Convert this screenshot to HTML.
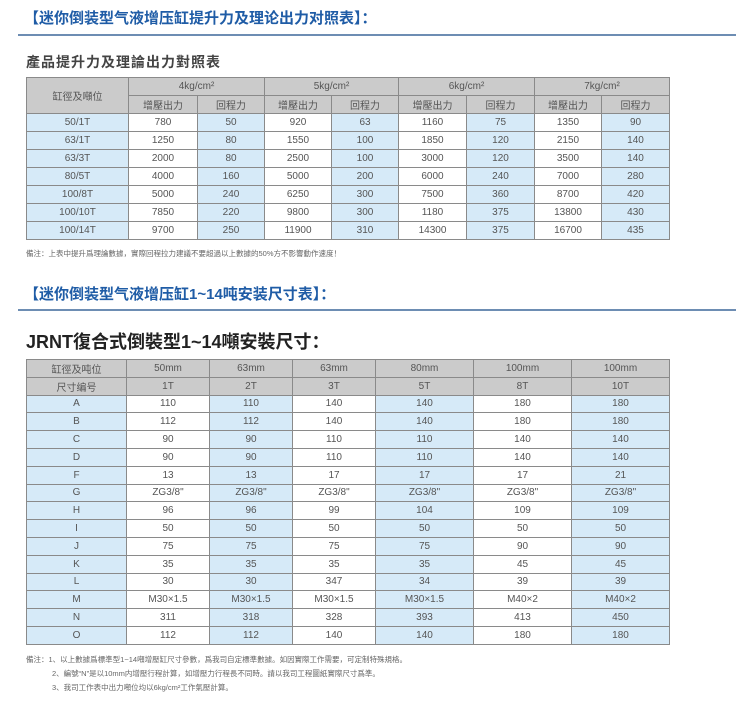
<!DOCTYPE html>
<html><head><meta charset="utf-8"><style>
body{margin:0;width:750px;height:703px;background:#fff;position:relative;overflow:hidden;font-family:"Liberation Sans","Noto Sans CJK SC",sans-serif}
.t{position:absolute;white-space:nowrap}
.h1{color:#1f5ca6;font-weight:bold;font-size:15px;left:24px}
.line{position:absolute;left:18px;width:718px;height:2px;background:#6d8db3}
table{position:absolute;border-collapse:collapse;table-layout:fixed;font-size:10px;color:#555}
td{border:1px solid #8a8a8a;text-align:center;padding:0;overflow:hidden;white-space:nowrap}
.g{background:#cbcbcb}
.b{background:#d6eaf8}
.w{background:#fff}
.note{font-size:7.5px;color:#666}
#t2 tr{height:17.8px}
</style></head><body>
<div class="t h1" style="top:7px">【迷你倒装型气液增压缸提升力及理论出力对照表】：</div>
<div class="line" style="top:34px"></div>
<div class="t" style="left:26px;top:52px;font-size:14px;font-weight:bold;color:#444;letter-spacing:1px">產品提升力及理論出力對照表</div>
<table style="left:26px;top:77px;width:643px">
<colgroup><col style="width:102px"><col style="width:69px"><col style="width:67px"><col style="width:67px"><col style="width:67px"><col style="width:68px"><col style="width:68px"><col style="width:67px"><col style="width:68px"></colgroup>
<tr style="height:18px"><td class="g" rowspan="2">缸徑及噸位</td><td class="g" colspan="2">4kg/cm²</td><td class="g" colspan="2">5kg/cm²</td><td class="g" colspan="2">6kg/cm²</td><td class="g" colspan="2">7kg/cm²</td></tr>
<tr style="height:18px"><td class="g">增壓出力</td><td class="g">回程力</td><td class="g">增壓出力</td><td class="g">回程力</td><td class="g">增壓出力</td><td class="g">回程力</td><td class="g">增壓出力</td><td class="g">回程力</td></tr>
<tr style="height:18px"><td class="b">50/1T</td><td class="w">780</td><td class="b">50</td><td class="w">920</td><td class="b">63</td><td class="w">1160</td><td class="b">75</td><td class="w">1350</td><td class="b">90</td></tr>
<tr style="height:18px"><td class="b">63/1T</td><td class="w">1250</td><td class="b">80</td><td class="w">1550</td><td class="b">100</td><td class="w">1850</td><td class="b">120</td><td class="w">2150</td><td class="b">140</td></tr>
<tr style="height:18px"><td class="b">63/3T</td><td class="w">2000</td><td class="b">80</td><td class="w">2500</td><td class="b">100</td><td class="w">3000</td><td class="b">120</td><td class="w">3500</td><td class="b">140</td></tr>
<tr style="height:18px"><td class="b">80/5T</td><td class="w">4000</td><td class="b">160</td><td class="w">5000</td><td class="b">200</td><td class="w">6000</td><td class="b">240</td><td class="w">7000</td><td class="b">280</td></tr>
<tr style="height:18px"><td class="b">100/8T</td><td class="w">5000</td><td class="b">240</td><td class="w">6250</td><td class="b">300</td><td class="w">7500</td><td class="b">360</td><td class="w">8700</td><td class="b">420</td></tr>
<tr style="height:18px"><td class="b">100/10T</td><td class="w">7850</td><td class="b">220</td><td class="w">9800</td><td class="b">300</td><td class="w">1180</td><td class="b">375</td><td class="w">13800</td><td class="b">430</td></tr>
<tr style="height:18px"><td class="b">100/14T</td><td class="w">9700</td><td class="b">250</td><td class="w">11900</td><td class="b">310</td><td class="w">14300</td><td class="b">375</td><td class="w">16700</td><td class="b">435</td></tr>
</table>
<div class="t note" style="left:26px;top:248px">備注：上表中提升爲理論數據，實際回程拉力建議不要超過以上數據的50%方不影響動作速度！</div>

<div class="t h1" style="top:283px">【迷你倒装型气液增压缸1~14吨安装尺寸表】：</div>
<div class="line" style="top:309px"></div>
<div class="t" style="left:26px;top:328px;font-size:18px;font-weight:bold;color:#222">JRNT復合式倒裝型1~14噸安裝尺寸：</div>
<table id="t2" style="left:26px;top:359px;width:643px">
<colgroup><col style="width:100px"><col style="width:83px"><col style="width:83px"><col style="width:83px"><col style="width:98px"><col style="width:98px"><col style="width:98px"></colgroup>
<tr><td class="g">缸徑及吨位</td><td class="g">50mm</td><td class="g">63mm</td><td class="g">63mm</td><td class="g">80mm</td><td class="g">100mm</td><td class="g">100mm</td></tr>
<tr><td class="g">尺寸编号</td><td class="g">1T</td><td class="g">2T</td><td class="g">3T</td><td class="g">5T</td><td class="g">8T</td><td class="g">10T</td></tr>
<tr><td class="b">A</td><td class="w">110</td><td class="b">110</td><td class="w">140</td><td class="b">140</td><td class="w">180</td><td class="b">180</td></tr>
<tr><td class="b">B</td><td class="w">112</td><td class="b">112</td><td class="w">140</td><td class="b">140</td><td class="w">180</td><td class="b">180</td></tr>
<tr><td class="b">C</td><td class="w">90</td><td class="b">90</td><td class="w">110</td><td class="b">110</td><td class="w">140</td><td class="b">140</td></tr>
<tr><td class="b">D</td><td class="w">90</td><td class="b">90</td><td class="w">110</td><td class="b">110</td><td class="w">140</td><td class="b">140</td></tr>
<tr><td class="b">F</td><td class="w">13</td><td class="b">13</td><td class="w">17</td><td class="b">17</td><td class="w">17</td><td class="b">21</td></tr>
<tr><td class="b">G</td><td class="w">ZG3/8"</td><td class="b">ZG3/8"</td><td class="w">ZG3/8"</td><td class="b">ZG3/8"</td><td class="w">ZG3/8"</td><td class="b">ZG3/8"</td></tr>
<tr><td class="b">H</td><td class="w">96</td><td class="b">96</td><td class="w">99</td><td class="b">104</td><td class="w">109</td><td class="b">109</td></tr>
<tr><td class="b">I</td><td class="w">50</td><td class="b">50</td><td class="w">50</td><td class="b">50</td><td class="w">50</td><td class="b">50</td></tr>
<tr><td class="b">J</td><td class="w">75</td><td class="b">75</td><td class="w">75</td><td class="b">75</td><td class="w">90</td><td class="b">90</td></tr>
<tr><td class="b">K</td><td class="w">35</td><td class="b">35</td><td class="w">35</td><td class="b">35</td><td class="w">45</td><td class="b">45</td></tr>
<tr><td class="b">L</td><td class="w">30</td><td class="b">30</td><td class="w">347</td><td class="b">34</td><td class="w">39</td><td class="b">39</td></tr>
<tr><td class="b">M</td><td class="w">M30×1.5</td><td class="b">M30×1.5</td><td class="w">M30×1.5</td><td class="b">M30×1.5</td><td class="w">M40×2</td><td class="b">M40×2</td></tr>
<tr><td class="b">N</td><td class="w">311</td><td class="b">318</td><td class="w">328</td><td class="b">393</td><td class="w">413</td><td class="b">450</td></tr>
<tr><td class="b">O</td><td class="w">112</td><td class="b">112</td><td class="w">140</td><td class="b">140</td><td class="w">180</td><td class="b">180</td></tr>
</table>
<div class="t note" style="left:26px;top:654px">備注：1、以上數據爲標準型1~14噸增壓缸尺寸參數，爲我司自定標準數據。如因實際工作需要，可定制特殊規格。</div>
<div class="t note" style="left:52px;top:668px">2、編號“N”是以10mm内增壓行程計算，如增壓力行程長不同時。請以我司工程圖紙實際尺寸爲準。</div>
<div class="t note" style="left:52px;top:682px">3、我司工作表中出力噸位均以6kg/cm²工作氣壓計算。</div>
</body></html>
